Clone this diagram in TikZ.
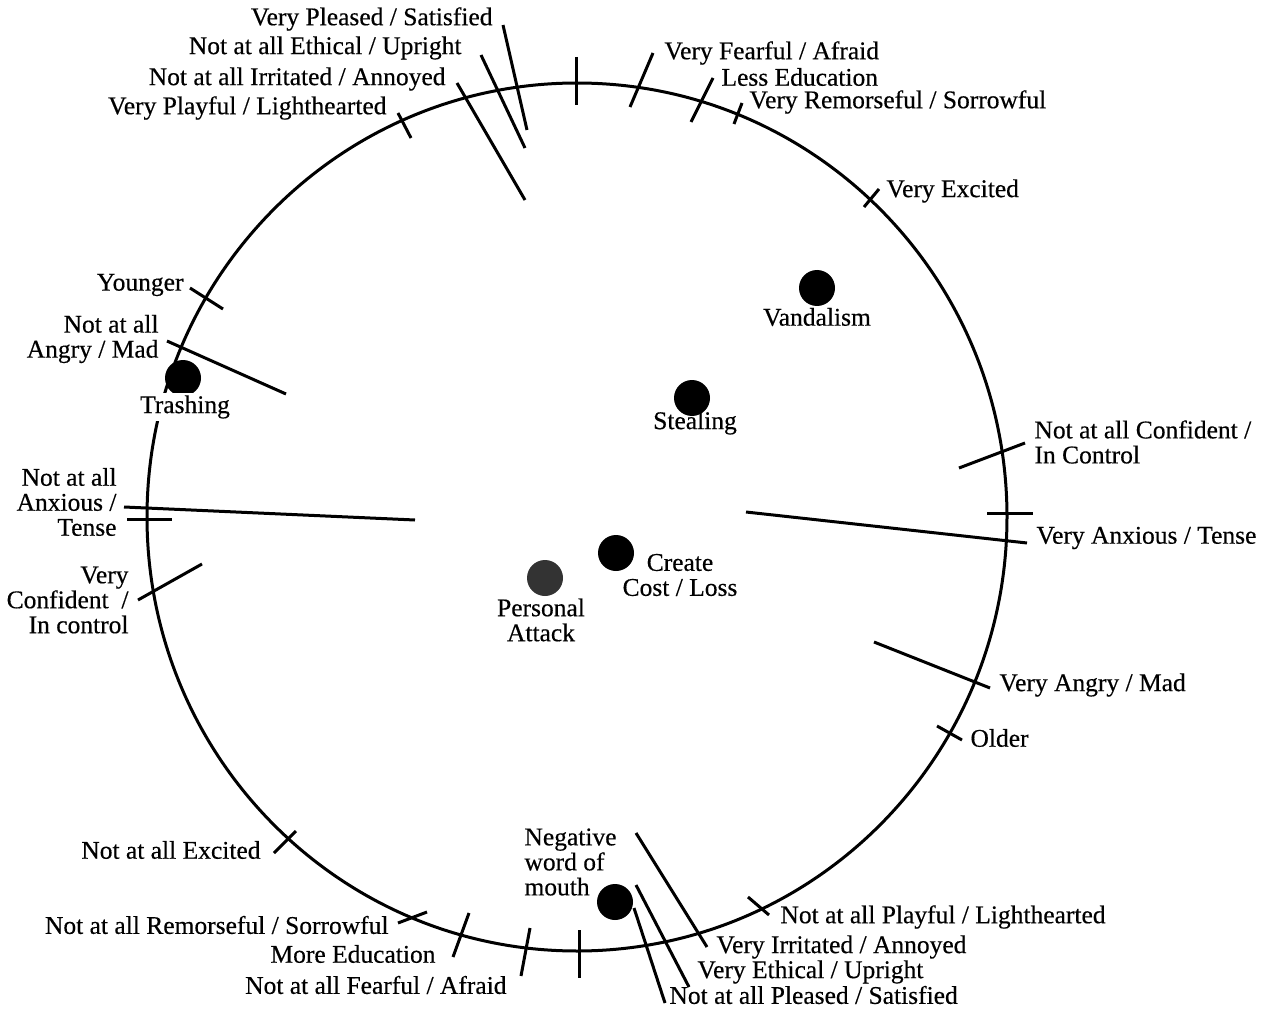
\documentclass[tikz,border=0pt]{standalone}
\usepackage{fontspec}
\setmainfont[FakeBold=0.4]{Liberation Serif}
\usetikzlibrary{positioning}
\begin{document}
\begin{tikzpicture}[x=1pt, y=-1pt, line width=3pt,
    every node/.style={font=\fontsize{25.5}{25}\selectfont, inner sep=0pt},
    spot/.style={circle, fill=black, minimum size=36pt},
    lblr/.style={anchor=west, align=left},
    lbll/.style={anchor=east, align=right}]
  \useasboundingbox (0,0) rectangle (1269,1016);

  % 外圆
  \draw (577,517) ellipse [x radius=430pt, y radius=434pt];

  % 上方刻度 (右侧标签)
  \draw (576,57) -- (576,105);
  \draw (653,53) -- (630,107);
  \node[lblr] (fearV) at (663,53) {Very Fearful / Afraid};
  \draw (713,78) -- (691,122);
  \node[lblr] (eduL) at (720,77) {Less Education};
  \draw (742,103) -- (734,124);
  \node[lblr] (remV) at (748,102) {Very Remorseful / Sorrowful};
  \draw (879,189) -- (864,207);
  \node[lblr] (excV) at (885,191) {Very Excited};

  % 上方刻度 (左侧标签)
  \draw (503,25) -- (527,130);
  \node[lbll] (pleV) at (494,19) {Very Pleased / Satisfied};
  \draw (481,55) -- (525,148);
  \node[lbll] (ethN) at (463,48) {Not at all Ethical / Upright};
  \draw (457,83) -- (525,200);
  \node[lbll] (irrN) at (447,79) {Not at all Irritated / Annoyed};
  \draw (398,113) -- (411,138);
  \node[lbll] (plaV) at (388,108) {Very Playful / Lighthearted};

  % 左侧刻度
  \draw (190,288) -- (223,309);
  \node[lbll] (ageY) at (185,285) {Younger};
  \draw (167,341) -- (286,394);
  \node[lbll] (angN) at (160,339) {Not at all\\Angry / Mad};
  \draw (124,507) -- (415,520);
  \draw (127,519) -- (172,519);
  \node[lbll] (anxN) at (118,502) {Not at all\\Anxious /\\Tense};
  \draw (138,600) -- (202,564);
  \node[lbll] (conV) at (130,600) {Very\\Confident\enspace/\\In control};

  % 右侧刻度
  \draw (1025,443) -- (959,468);
  \node[lblr] (conN) at (1033,442) {Not at all Confident /\\In Control};
  \draw (987,513) -- (1033,513);
  \draw (1027,543) -- (746,512);
  \node[lblr] (anxV) at (1035,538) {Very Anxious / Tense};
  \draw (990,688) -- (874,642);
  \node[lblr] (angV) at (998,685) {Very Angry / Mad};
  \draw (962,740) -- (937,726);
  \node[lblr] (ageO) at (969,738) {Older};

  % 下方刻度 (左侧标签)
  \draw (274,853) -- (296,831);
  \node[lbll] (excN) at (262,850) {Not at all Excited};
  \draw (398,923) -- (427,912);
  \node[lbll] (remN) at (390,925) {Not at all Remorseful / Sorrowful};
  \draw (453,957) -- (469,913);
  \node[lbll] (eduM) at (437,954) {More Education};
  \draw (521,976) -- (530,928);
  \node[lbll] (fearN) at (508,985) {Not at all Fearful / Afraid};
  \draw (579,930) -- (579,978);

  % 下方刻度 (右侧标签)
  \draw (769,915) -- (748,897);
  \node[lblr] (plaN) at (779,917) {Not at all Playful / Lighthearted};
  \draw (707,947) -- (636,833);
  \node[lblr] (irrV) at (715,947) {Very Irritated / Annoyed};
  \draw (689,987) -- (636,885);
  \node[lblr] (ethV) at (696,972) {Very Ethical / Upright};
  \draw (665,1003) -- (634,908);
  \node[lblr] (pleN) at (668,995) {Not at all Pleased / Satisfied};

  % 行为点
  \node[spot] (vand) at (817,288) {};
  \node (vandL) at (817,317) {Vandalism};
  \node[spot] (steal) at (692,398) {};
  \node (stealL) at (695,423) {Stealing};
  \node[spot] (trash) at (183,378) {};
  \node[fill=white, inner sep=2pt] (trashL) at (185,407) {Trashing};
  \node[spot] (cost) at (616,553) {};
  \node[align=center] (costL) at (680,575) {Create\\Cost / Loss};
  \node[spot, fill=black!80] (pers) at (545,578) {};
  \node[align=center] (persL) at (541,620) {Personal\\Attack};
  \node[spot] (word) at (615,902) {};
  \node[lblr] (wordL) at (523,862) {Negative\\word of\\mouth};
\end{tikzpicture}
\end{document}
